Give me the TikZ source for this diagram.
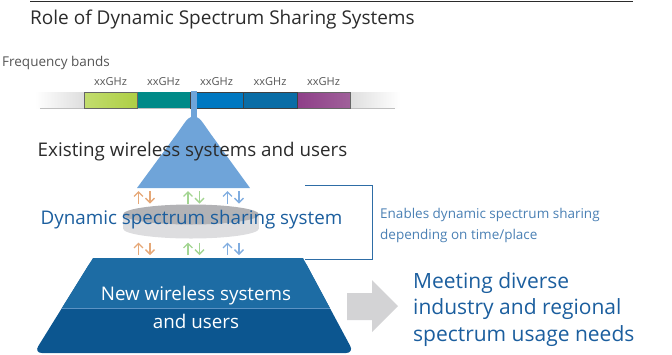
\documentclass[tikz,border=0pt]{standalone}
\usepackage{fontspec}
\setmainfont{Open Sans}
\usetikzlibrary{arrows.meta,shapes.geometric}
\definecolor{titlegray}{HTML}{2B2B2B}
\definecolor{labgray}{HTML}{555555}
\definecolor{dsblue}{HTML}{1B5E9E}
\definecolor{lblue}{HTML}{6FA4D9}
\definecolor{upblue}{HTML}{1D6CA4}
\definecolor{lowblue}{HTML}{0C5690}
\definecolor{sepblue}{HTML}{5C93C4}
\definecolor{brblue}{HTML}{2E6DA6}
\definecolor{txtblue}{HTML}{4A80B4}
\definecolor{segA}{HTML}{AECF45}
\definecolor{segAl}{HTML}{C2DC6E}
\definecolor{segB}{HTML}{008A88}
\definecolor{segC}{HTML}{0078C1}
\definecolor{segD}{HTML}{0A6DA6}
\definecolor{segE}{HTML}{8E3F88}
\definecolor{segEl}{HTML}{A0609A}
\definecolor{arrO}{HTML}{E6A877}
\definecolor{arrG}{HTML}{A3D592}
\definecolor{arrB}{HTML}{80ADE0}
\definecolor{diskTop}{HTML}{B2B2B5}
\definecolor{diskBody}{HTML}{DDDDDF}
\definecolor{bigArrow}{HTML}{D3D3D5}
\tikzset{
  ghz/.style={font=\fontsize{11}{12}\selectfont, text=labgray, inner sep=0pt},
  seg/.style={draw=black!75, line width=0.9pt},
  updown/.style={line width=1.3pt, -{Straight Barb[length=4.5pt,width=9pt]}},
  bigtext/.style={font=\fontsize{18.8}{22}\selectfont, inner sep=0pt},
}
\begin{document}
\begin{tikzpicture}[x=1pt,y=-1pt]
\useasboundingbox (0,0) rectangle (672,354);
% top rule
\draw[titlegray, line width=0.8pt] (30,1) -- (633,1);
\node[anchor=west, inner sep=0pt, font=\fontsize{19}{22}\selectfont, text=titlegray] (title) at (30,20) {Role of Dynamic Spectrum Sharing Systems};
\node[anchor=west, inner sep=0pt, font=\fontsize{13.5}{15}\selectfont, text=labgray] (fb) at (2,63) {Frequency bands};
% bar background
\shade[left color=white, right color=black!13] (35,92) rectangle (84,108);
\shade[left color=black!13, right color=white] (349,92) rectangle (400,108);
\draw[black!25, line width=0.6pt] (40,108) -- (395,108);
% segments
\shade[left color=segAl, right color=segA] (84,92) rectangle (137,108);
\fill[segB] (137,92) rectangle (190,108);
\fill[segC] (190,92) rectangle (243,108);
\fill[segD] (243,92) rectangle (297,108);
\shade[left color=segE, right color=segEl] (297,92) rectangle (350,108);
\draw[black!60, line width=0.9pt] (84,92) rectangle (137,108);
\draw[black!60, line width=0.9pt] (297,92) rectangle (350,108);
\draw[black!60, line width=0.9pt] (137,92) -- (137,108);
\draw[seg] (190,92) rectangle (243,108);
\draw[seg] (243,92) rectangle (297,108);
\node[ghz] (g1) at (110.5,82) {xxGHz};
\node[ghz] (g2) at (163.5,82) {xxGHz};
\node[ghz] (g3) at (216.5,82) {xxGHz};
\node[ghz] (g4) at (270,82) {xxGHz};
\node[ghz] (g5) at (323.5,82) {xxGHz};
% triangle with stem
\fill[lblue] (191,91) rectangle (196.5,120);
\fill[lblue] (137,188) -- (176,135) .. controls (184,124) and (187,118) .. (191,117) -- (196.5,117) .. controls (200.5,118) and (203.5,124) .. (211.5,135) -- (250,188) -- cycle;
\node[bigtext, text=titlegray] (exist) at (192.5,152) {Existing wireless systems and users};
% disk
\fill[diskBody] (123,214.5) rectangle (259,228.5);
\fill[diskBody] (191,228.5) ellipse [x radius=68, y radius=10];
\fill[diskTop] (191,214.5) ellipse [x radius=68, y radius=10];
\node[bigtext, text=dsblue] (dss) at (191.5,220) {Dynamic spectrum sharing system};
% up/down arrows
\foreach \xx/\cc in {138.5/arrO,188/arrG,227.5/arrB}{
  \draw[updown, \cc] (\xx,203.5) -- (\xx,191);
  \draw[updown, \cc] (\xx+11.5,191) -- (\xx+11.5,203.5);
  \draw[updown, \cc] (\xx,255) -- (\xx,242.5);
  \draw[updown, \cc] (\xx+11.5,242.5) -- (\xx+11.5,255);
}
% bracket
\draw[brblue, line width=0.8pt] (305,185) -- (372,185) -- (372,259) -- (305,259);
\node[anchor=west, inner sep=0pt, align=left, font=\fontsize{13.5}{21}\selectfont, text=txtblue] (enab) at (380,225) {Enables dynamic spectrum sharing\\depending on time/place};
% trapezoid
\fill[lowblue, rounded corners=8pt] (93,258) -- (303,258) -- (354,353) -- (34,353) -- cycle;
\fill[upblue] (93,258) -- (303,258) -- (329.8,308) -- (62,308) -- cycle;
\draw[sepblue, line width=0.6pt] (62,308) -- (329.8,308);
\node[bigtext, text=white] (new1) at (196,296) {New wireless systems};
\node[bigtext, text=white] (new2) at (196,321) {and users};
% big arrow
\fill[bigArrow] (347,293) -- (372,293) -- (372,280) -- (398,306) -- (372,332) -- (372,320) -- (347,320) -- cycle;
\node[anchor=west, inner sep=0pt, align=left, font=\fontsize{21}{26.5}\selectfont, text=dsblue] (meet) at (413,309.5) {Meeting diverse\\industry and regional\\spectrum usage needs};
\end{tikzpicture}
\end{document}
